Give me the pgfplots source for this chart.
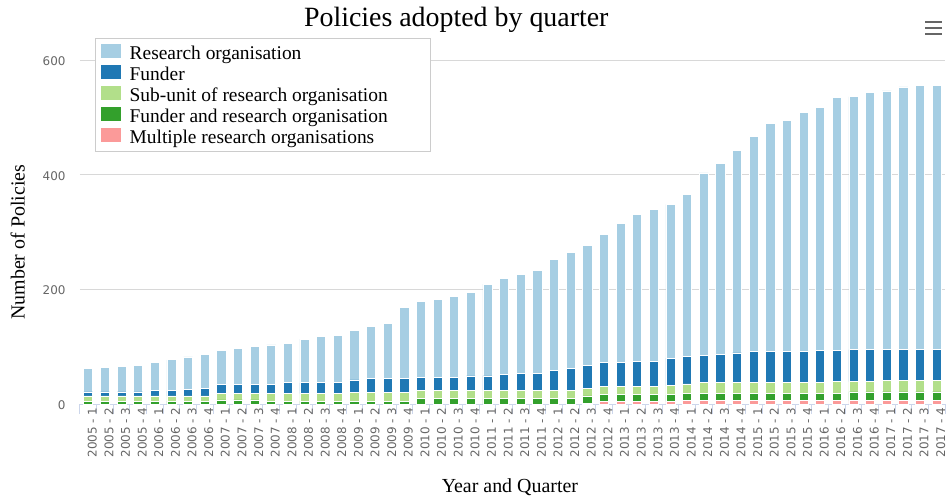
\documentclass[border=0pt]{standalone}
\usepackage{pgfplots}
\pgfplotsset{compat=1.18}
\usepackage{pgfplotstable}
\usepackage{fontspec}
\setmainfont{Liberation Serif}
\newfontfamily\ticksf{DejaVu Sans}
\definecolor{cR}{HTML}{A6CEE3}
\definecolor{cF}{HTML}{1F78B4}
\definecolor{cS}{HTML}{B2DF8A}
\definecolor{cFR}{HTML}{33A02C}
\definecolor{cM}{HTML}{FB9A99}
\definecolor{axisc}{HTML}{CCD6EB}
\definecolor{gridc}{HTML}{D8D8D8}
\definecolor{tickc}{HTML}{666666}
\definecolor{legc}{HTML}{CCCCCC}
\pgfplotstableread{
x M FR S F R
0 0 5 9 7 41
1 0 5 9 7 43
2 0 5 9 7 45
3 0 5 9 7 47
4 0 5 9 9 50
5 0 5 9 9 54
6 0 5 9 11 57
7 0 5 9 13 60
8 0 7 11 16 60
9 0 7 11 16 63
10 0 7 11 16 67
11 0 5 13 16 69
12 0 5 13 19 69
13 0 5 13 19 76
14 0 5 13 19 81
15 0 5 13 19 83
16 0 5 15 22 87
17 0 5 15 25 91
18 0 5 15 25 96
19 0 5 15 25 124
20 0 9 15 23 132
21 0 9 15 23 136
22 0 9 15 23 141
23 0 9 15 25 146
24 0 9 15 25 160
25 0 9 15 27 168
26 0 9 15 30 172
27 0 9 15 30 179
28 0 9 15 34 194
29 0 9 15 38 202
30 1 13 13 41 209
31 4 12 14 42 224
32 4 12 14 42 243
33 4 12 14 45 255
34 4 12 14 45 264
35 4 12 16 48 268
36 6 13 16 48 282
37 6 13 18 48 318
38 6 13 18 50 332
39 6 13 18 52 353
40 6 13 18 54 375
41 6 13 18 54 399
42 6 13 18 54 403
43 6 13 18 54 417
44 6 13 18 56 425
45 6 13 20 54 441
46 6 15 18 56 441
47 6 15 18 56 448
48 6 15 20 54 451
49 6 15 20 54 458
50 6 15 20 54 461
51 6 15 20 54 461
}\data
\pgfplotsset{sqleg/.style={legend image code/.code={\fill[##1] (0bp,-5bp) rectangle (21bp,10bp);}}}
\newcommand\lt[1]{\makebox[294bp][l]{#1}}
\begin{document}
\begin{tikzpicture}
\useasboundingbox (-80bp,-96bp) rectangle (869bp,404bp);
\begin{axis}[
  scale only axis, width=865bp, height=344bp,
  ybar stacked, bar width=0.55,
  xmin=-0.5, xmax=51.5, ymin=0, ymax=600,
  enlargelimits=false,
  axis x line*=bottom, axis y line*=left,
  y axis line style={draw=none},
  x axis line style={draw=axisc, line width=1bp},
  ytick={0,200,400,600},
  ymajorgrids, grid style={draw=gridc, line width=1bp},
  major tick length=0pt,
  xtick={0,...,51},
  minor xtick={-0.5,0.5,...,51.5},
  minor tick length=10bp, tick align=outside,
  minor x tick style={draw=axisc, line width=1bp},
  /pgf/number format/assume math mode=true,
  yticklabel style={font=\ticksf\fontsize{12}{14}\selectfont, text=tickc, xshift=-11bp, yshift=-1bp},
  xticklabel style={rotate=90, anchor=east, font=\ticksf\fontsize{12}{14}\selectfont, text=tickc, yshift=-4bp},
  xticklabels={2005 - 1,2005 - 2,2005 - 3,2005 - 4,2006 - 1,2006 - 2,2006 - 3,2006 - 4,2007 - 1,2007 - 2,2007 - 3,2007 - 4,2008 - 1,2008 - 2,2008 - 3,2008 - 4,2009 - 1,2009 - 2,2009 - 3,2009 - 4,2010 - 1,2010 - 2,2010 - 3,2010 - 4,2011 - 1,2011 - 2,2011 - 3,2011 - 4,2012 - 1,2012 - 2,2012 - 3,2012 - 4,2013 - 1,2013 - 2,2013 - 3,2013 - 4,2014 - 1,2014 - 2,2014 - 3,2014 - 4,2015 - 1,2015 - 2,2015 - 3,2015 - 4,2016 - 1,2016 - 2,2016 - 3,2016 - 4,2017 - 1,2017 - 2,2017 - 3,2017 - 4},
  title={Policies adopted by quarter},
  title style={font=\fontsize{28}{30}\selectfont, at={(axis description cs:0.435,1.100)}, anchor=center},
  xlabel={Year and Quarter},
  xlabel style={font=\fontsize{20}{22}\selectfont, at={(axis description cs:0.497,-0.243)}, anchor=center},
  ylabel={Number of Policies},
  ylabel style={font=\fontsize{20}{22}\selectfont, at={(axis description cs:-0.072,0.47)}, anchor=center},
  legend style={at={(axis description cs:0.017,1.064)}, anchor=north west, draw=legc, fill=white,
    font=\fontsize{19.5}{20}\selectfont, inner xsep=5bp, inner ysep=4.5bp, row sep=1.2bp,
    /tikz/every odd column/.append style={column sep=6bp}},
  legend cell align=left, reverse legend,
  every axis plot/.append style={draw=white, line width=0.8bp},
]
\addplot[fill=cM, sqleg] table[x=x, y=M] {\data};
\addlegendentry{\lt{Multiple research organisations}}
\addplot[fill=cFR, sqleg] table[x=x, y=FR] {\data};
\addlegendentry{\lt{Funder and research organisation}}
\addplot[fill=cS, sqleg] table[x=x, y=S] {\data};
\addlegendentry{\lt{Sub-unit of research organisation}}
\addplot[fill=cF, sqleg] table[x=x, y=F] {\data};
\addlegendentry{\lt{Funder}}
\addplot[fill=cR, sqleg] table[x=x, y=R] {\data};
\addlegendentry{\lt{Research organisation}}
\end{axis}
\draw[line width=2.6bp, color=tickc] (845bp,382bp) -- (862bp,382bp);
\draw[line width=2.6bp, color=tickc] (845bp,376bp) -- (862bp,376bp);
\draw[line width=2.6bp, color=tickc] (845bp,370bp) -- (862bp,370bp);
\end{tikzpicture}
\end{document}
